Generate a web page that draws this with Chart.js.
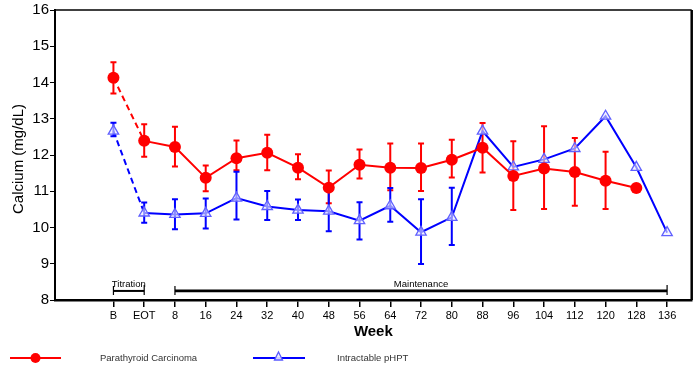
<!DOCTYPE html>
<html><head><meta charset="utf-8">
<script src="https://cdn.jsdelivr.net/npm/chart.js@4/dist/chart.umd.min.js"></script>
<style>html,body{margin:0;padding:0;background:#fff}#wrap{width:699px;height:367px}</style>
</head><body><div id="wrap"><canvas id="c" width="699" height="367"></canvas></div>
<script>
const weekLabels = ['B','EOT','8','16','24','32','40','48','56','64','72','80','88','96','104','112','120','128','136'];
const carcinoma     = [14.13,12.39,12.22,11.37,11.91,12.06,11.65,11.10,11.73,11.65,11.64,11.87,12.20,11.42,11.63,11.53,11.29,11.09,null];
const carcinomaHi   = [14.56,12.85,12.78,11.71,12.40,12.56,12.02,11.57,12.15,12.32,12.32,12.42,12.88,12.38,12.79,12.47,12.09,null,null];
const carcinomaLo   = [13.70,11.95,11.68,11.00,11.58,11.58,11.33,10.67,11.35,11.03,11.01,11.38,11.52,10.48,10.51,10.60,10.51,null,null];
const intractable   = [12.66,10.40,10.36,10.39,10.81,10.58,10.48,10.45,10.19,10.60,9.87,10.28,12.66,11.67,11.88,12.18,13.07,11.66,9.86];
const intractableHi = [12.89,10.69,10.78,10.80,11.54,11.01,10.77,11.01,10.70,11.09,10.78,11.10,null,null,null,null,null,null,null];
const intractableLo = [12.52,10.13,9.95,9.97,10.22,10.21,10.21,9.90,9.67,10.16,8.99,9.52,null,null,null,null,null,null,null];
const yTickValues = [8,9,10,11,12,13,14,15,16];
const phases = [
  {label:'Titration', from:0, to:1},
  {label:'Maintenance', from:2, to:18}
];
const seriesNames = ['Parathyroid Carcinoma','Intractable pHPT'];

const FONT = "'Liberation Sans', Arial, Helvetica, sans-serif";
const RED = '#ff0000', BLUE = '#0000ff';

const toXY = arr => arr.map((v,i)=>({x:i,y:v}));
const dashFirst = ctx => ctx.p0DataIndex === 0 ? [6,4] : undefined;

const errorBars = {
  id:'errorBars',
  beforeDatasetsDraw(chart){
    const {ctx, scales:{x,y}} = chart;
    const sets = [[carcinomaHi,carcinomaLo,RED],[intractableHi,intractableLo,BLUE]];
    ctx.save();
    sets.forEach(([hi,lo,col])=>{
      ctx.strokeStyle = col; ctx.lineWidth = 2;
      hi.forEach((h,i)=>{
        const l = lo[i];
        if(h==null||l==null) return;
        const px = x.getPixelForValue(i), pt = y.getPixelForValue(h), pb = y.getPixelForValue(l);
        ctx.beginPath();
        ctx.moveTo(px,pt); ctx.lineTo(px,pb);
        ctx.moveTo(px-3,pt); ctx.lineTo(px+3,pt);
        ctx.moveTo(px-3,pb); ctx.lineTo(px+3,pb);
        ctx.stroke();
      });
    });
    ctx.restore();
  }
};

const decorations = {
  id:'decorations',
  afterDraw(chart){
    const {ctx, chartArea:a, scales:{x,y}} = chart;
    ctx.save();
    ctx.strokeStyle = '#000';
    ctx.lineWidth = 1.5;
    ctx.beginPath(); ctx.moveTo(a.left, a.top); ctx.lineTo(a.right, a.top); ctx.stroke();
    ctx.lineWidth = 2.5;
    ctx.beginPath(); ctx.moveTo(a.right, a.top); ctx.lineTo(a.right, a.bottom); ctx.stroke();
    const yl = y.getPixelForValue(8.25);
    phases.forEach(p=>{
      const x0 = x.getPixelForValue(p.from), x1 = x.getPixelForValue(p.to);
      ctx.strokeStyle = '#000';
      ctx.lineWidth = p.to - p.from > 2 ? 2.7 : 2;
      ctx.beginPath(); ctx.moveTo(x0, yl); ctx.lineTo(x1, yl); ctx.stroke();
      ctx.lineWidth = 1.2;
      ctx.beginPath();
      ctx.moveTo(x0, yl-5); ctx.lineTo(x0, yl+4);
      ctx.moveTo(x1, yl-6); ctx.lineTo(x1, yl+4);
      ctx.stroke();
      ctx.fillStyle = '#000';
      ctx.font = '9.5px ' + FONT;
      ctx.textAlign = 'center'; ctx.textBaseline = 'middle';
      ctx.fillText(p.label, (x0+x1)/2, yl-7);
    });
    ctx.fillStyle = '#000';
    ctx.font = 'bold 15px ' + FONT;
    ctx.textAlign = 'center'; ctx.textBaseline = 'middle';
    ctx.fillText('Week', (a.left+a.right)/2, 332);
    ctx.save();
    ctx.translate(19, 159);
    ctx.rotate(-Math.PI/2);
    ctx.font = '15px ' + FONT;
    ctx.fillText('Calcium (mg/dL)', 0, 0);
    ctx.restore();
    const ly = 358;
    ctx.lineWidth = 2;
    ctx.strokeStyle = RED;
    ctx.beginPath(); ctx.moveTo(10, ly); ctx.lineTo(61, ly); ctx.stroke();
    ctx.fillStyle = RED;
    ctx.beginPath(); ctx.arc(35.5, ly, 5, 0, Math.PI*2); ctx.fill();
    ctx.strokeStyle = BLUE;
    ctx.beginPath(); ctx.moveTo(253, ly); ctx.lineTo(305, ly); ctx.stroke();
    ctx.fillStyle = 'rgba(235,235,255,0.9)';
    ctx.strokeStyle = '#5a5aff'; ctx.lineWidth = 1.3;
    ctx.beginPath(); ctx.moveTo(278.5, ly-6); ctx.lineTo(282.5, ly+2); ctx.lineTo(274.5, ly+2); ctx.closePath();
    ctx.fill(); ctx.stroke();
    ctx.fillStyle = '#333';
    ctx.font = '9.5px ' + FONT;
    ctx.textAlign = 'left';
    ctx.fillText(seriesNames[0], 100, ly);
    ctx.fillText(seriesNames[1], 337, ly);
    ctx.restore();
  }
};

new Chart(document.getElementById('c'), {
  type:'line',
  data:{
    datasets:[
      {
        label: seriesNames[0],
        data: toXY(carcinoma),
        borderColor: RED, backgroundColor: RED, borderWidth: 2,
        pointStyle:'circle', pointRadius: 6, pointBorderWidth: 0,
        pointBackgroundColor: RED,
        segment:{borderDash: dashFirst},
        spanGaps:false
      },
      {
        label: seriesNames[1],
        data: toXY(intractable),
        borderColor: BLUE, backgroundColor: BLUE, borderWidth: 2,
        pointStyle:'triangle', pointRadius: 6, pointBorderWidth: 1.3,
        pointBorderColor:'#6060ff', pointBackgroundColor:'rgba(235,235,255,0.6)',
        segment:{borderDash: dashFirst}
      }
    ]
  },
  options:{
    responsive:false, animation:false, devicePixelRatio:1,
    layout:{padding:{top:8, right:7, left:0, bottom:0}},
    plugins:{legend:{display:false}, tooltip:{enabled:false}},
    scales:{
      x:{
        type:'linear', min:-1.9, max:18.8,
        afterFit(s){ s.height = 67; },
        afterBuildTicks(s){ s.ticks = weekLabels.map((_,i)=>({value:i})); },
        ticks:{
          autoSkip:false, maxRotation:0, padding:2,
          font:{family:FONT, size:11}, color:'#000',
          callback:(v)=> weekLabels[v] ?? ''
        },
        grid:{drawOnChartArea:false, drawTicks:true, tickLength:7, color:'#000', lineWidth:1.5},
        border:{display:true, color:'#000', width:2.5}
      },
      y:{
        min:8, max:16,
        afterFit(s){ s.width = 55; },
        afterBuildTicks(s){ s.ticks = yTickValues.map(v=>({value:v})); },
        ticks:{padding:1, font:{family:FONT, size:15}, color:'#000'},
        grid:{drawOnChartArea:false, drawTicks:true, tickLength:5, color:'#000', lineWidth:1},
        border:{display:true, color:'#000', width:2}
      }
    }
  },
  plugins:[errorBars, decorations]
});
</script></body></html>
